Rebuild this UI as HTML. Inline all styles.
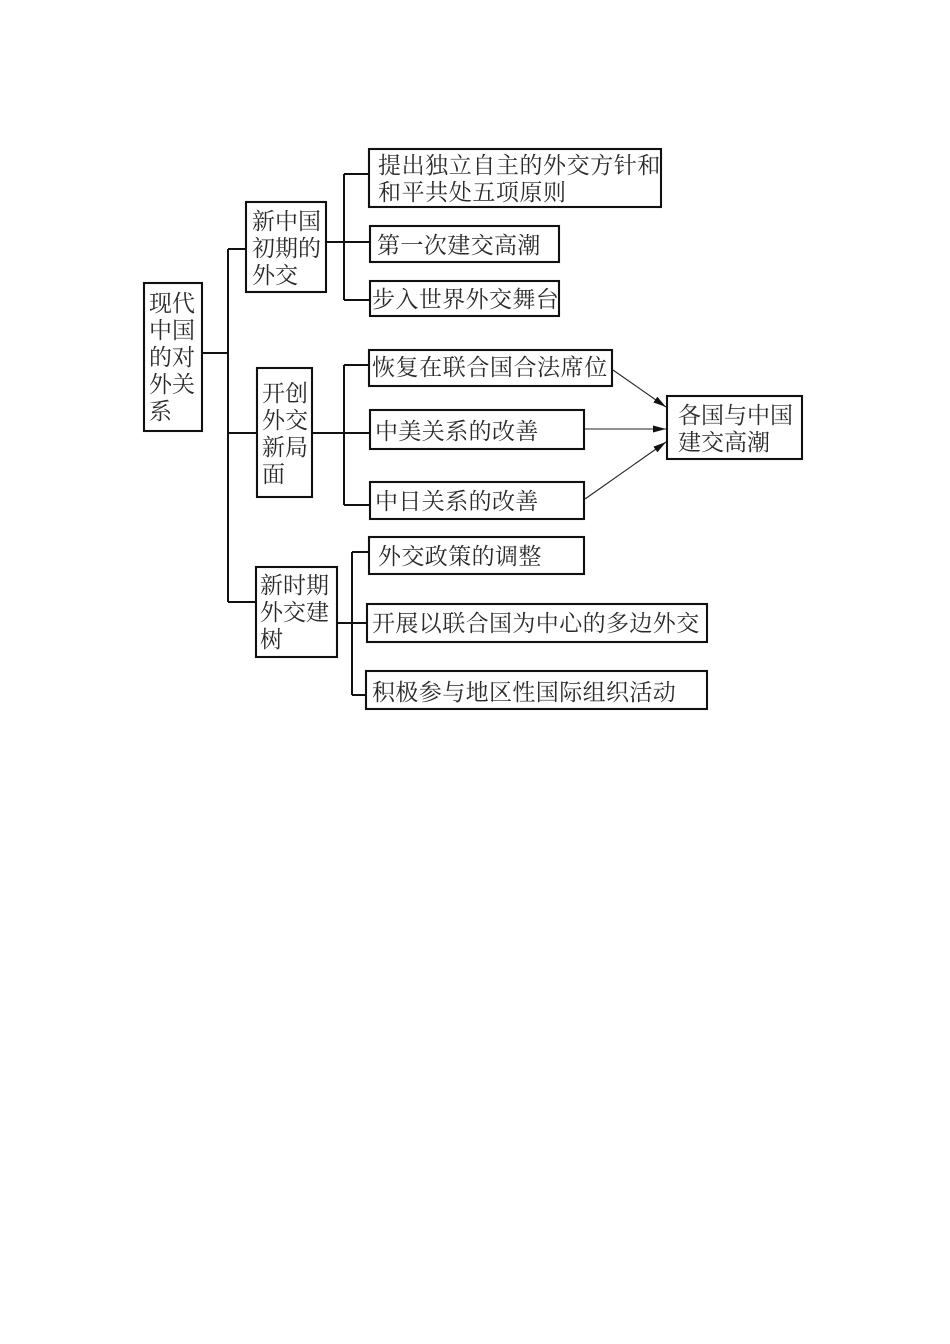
<!DOCTYPE html>
<html><head><meta charset="utf-8">
<style>
html,body{margin:0;padding:0;background:#fff}
svg{display:block}
text{font-family:"Liberation Serif","Noto Serif CJK SC",serif;font-size:23px;fill:#2a2a2a}
.s{letter-spacing:.4px}
.w{letter-spacing:.58px}
.b{fill:#fff;stroke:#111;stroke-width:2.1}
.l{fill:none;stroke:#111;stroke-width:2}
.a{fill:none;stroke:#222;stroke-width:1.1}
</style></head><body>
<svg width="950" height="1344" viewBox="0 0 950 1344" xmlns="http://www.w3.org/2000/svg">
<defs><marker id="m" markerWidth="14" markerHeight="8" refX="13" refY="3.5" orient="auto" markerUnits="userSpaceOnUse"><path d="M0 0L13 3.5L0 7Z" fill="#111"/></marker></defs>
<path class="l" d="M202 353H228M228 249V602M228 249H246M228 433H257M228 602H256"/>
<path class="l" d="M326 242H370M344 174V300M344 174H368M344 300H369"/>
<path class="l" d="M312 433H370M344 365V505M344 365H368M344 505H370"/>
<path class="l" d="M337 623H367M352 552V695M352 552H368M352 695H366"/>
<path class="a" marker-end="url(#m)" d="M613 370L666 407"/>
<path class="a" marker-end="url(#m)" d="M584 429H666"/>
<path class="a" marker-end="url(#m)" d="M585 499L666 442"/>
<rect class="b" x="144" y="283" width="58" height="148"/>
<rect class="b" x="246" y="202" width="80" height="90"/>
<rect class="b" x="257" y="368" width="55" height="129"/>
<rect class="b" x="256" y="567" width="81" height="90"/>
<rect class="b" x="369" y="149" width="292" height="58"/>
<rect class="b" x="370" y="226" width="189" height="36"/>
<rect class="b" x="370" y="281" width="189" height="35"/>
<rect class="b" x="369" y="350" width="243" height="36"/>
<rect class="b" x="370" y="410" width="214" height="39"/>
<rect class="b" x="370" y="482" width="214" height="37"/>
<rect class="b" x="369" y="537" width="215" height="37"/>
<rect class="b" x="367" y="604" width="340" height="38"/>
<rect class="b" x="366" y="671" width="341" height="38"/>
<rect class="b" x="667" y="396" width="135" height="63"/>
<text x="149" y="311">现代</text><text x="149" y="338">中国</text><text x="149" y="365">的对</text><text x="149" y="392">外关</text><text x="149" y="419">系</text>
<text x="252" y="229">新中国</text><text x="252" y="256">初期的</text><text x="252" y="283">外交</text>
<text x="262" y="401">开创</text><text x="262" y="428">外交</text><text x="262" y="455">新局</text><text x="262" y="482">面</text>
<text x="260" y="593">新时期</text><text x="260" y="620">外交建</text><text x="260" y="647">树</text>
<text class="w" x="378" y="173">提出独立自主的外交方针和</text><text class="w" x="378" y="200">和平共处五项原则</text>
<text class="s" x="377" y="253">第一次建交高潮</text>
<text class="s" x="372" y="307">步入世界外交舞台</text>
<text class="w" x="372" y="375">恢复在联合国合法席位</text>
<text class="s" x="375" y="439">中美关系的改善</text>
<text class="s" x="375" y="509">中日关系的改善</text>
<text class="s" x="378" y="564">外交政策的调整</text>
<text class="s" x="372" y="631">开展以联合国为中心的多边外交</text>
<text class="s" x="372" y="700">积极参与地区性国际组织活动</text>
<text x="678" y="423">各国与中国</text><text x="678" y="450">建交高潮</text>
</svg>
</body></html>
